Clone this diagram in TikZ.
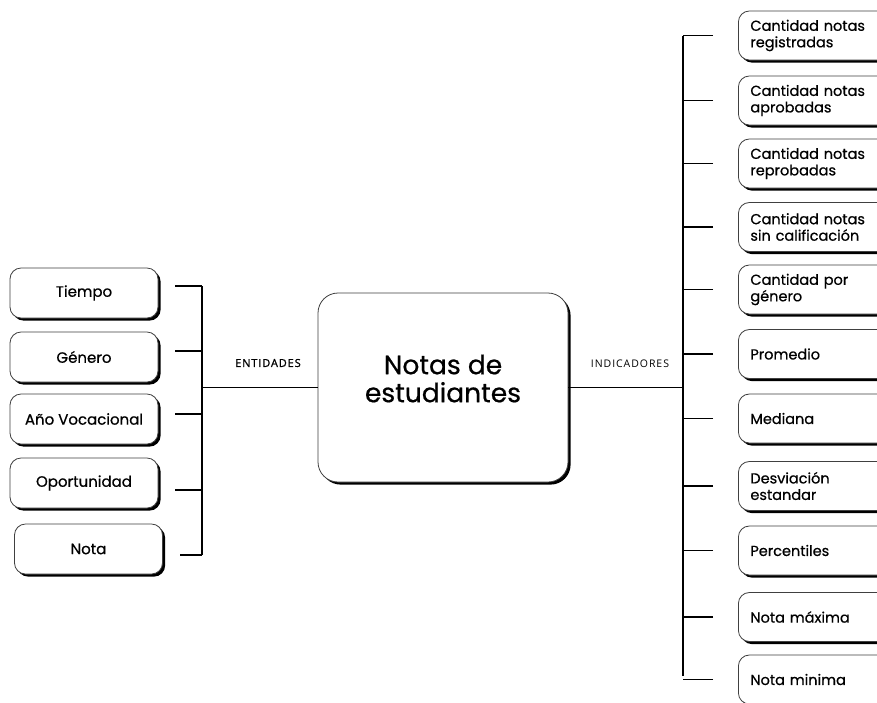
\documentclass[tikz,border=0pt]{standalone}
\usepackage{fontspec}
\setmainfont{Poppins}[FakeBold=0.6]
\newfontfamily\labfont{Open Sans}[LetterSpace=8,FakeBold=1.2]
\newfontfamily\labfontl{Open Sans}[LetterSpace=9]
\usetikzlibrary{shadows}
\begin{document}
\begin{tikzpicture}[x=1pt,y=-1pt,
  sbox/.style={draw=black!75, line width=0.8pt, fill=white,
    general shadow={fill=black, shadow xshift=2.6pt, shadow yshift=-2.6pt}},
  lbox/.style={sbox, rounded corners=11pt, minimum width=148pt, minimum height=50pt,
    inner sep=0pt, font=\fontsize{15}{17}\selectfont},
  rbox/.style={sbox, rounded corners=11pt, minimum width=170pt, minimum height=49pt,
    anchor=west, inner xsep=12pt, inner ysep=0pt, text width=146pt, align=left,
    font=\fontsize{14.5}{16.5}\selectfont},
  cbox/.style={sbox, rounded corners=20pt, minimum width=250pt, minimum height=189pt,
    inner sep=0pt},
  ctext/.style={align=center, font=\fontsize{26.5}{28}\selectfont, yshift=9pt},
  conn/.style={line width=1.5pt, black},
  tag/.style={font=\labfont\fontsize{11}{13}\selectfont}]
\useasboundingbox (0,0) rectangle (877,702);
\clip (0,0) rectangle (877,702);
\fill[white] (0,0) rectangle (877,702);

% left entity boxes
\node[lbox] (L1) at (84,293) {Tiempo};
\node[lbox] (L2) at (84,357) {Género};
\node[lbox] (L3) at (84,419) {Año Vocacional};
\node[lbox] (L4) at (84,483) {Oportunidad};
\node[lbox] (L5) at (88.5,549) {Nota};

% centre
\node[cbox, label={[ctext]center:Notas de\\estudiantes}] (C) at (443,387.5) {};

% right indicator boxes
\node[rbox] (R1) at (738,35.5) {Cantidad notas\\registradas};
\node[rbox] (R2) at (738,100.5) {Cantidad notas\\aprobadas};
\node[rbox] (R3) at (738,163.5) {Cantidad notas\\reprobadas};
\node[rbox] (R4) at (738,227) {Cantidad notas\\sin calificación};
\node[rbox] (R5) at (738,289.5) {Cantidad por\\género};
\node[rbox] (R6) at (738,354) {Promedio};
\node[rbox] (R7) at (738,418.5) {Mediana};
\node[rbox] (R8) at (738,486) {Desviación\\estandar};
\node[rbox] (R9) at (738,550.5) {Percentiles};
\node[rbox] (R10) at (738,617) {Nota máxima};
\node[rbox] (R11) at (738,679.5) {Nota minima};

% left bracket
\coordinate (bl1) at (202,286);
\coordinate (bl2) at (202,351);
\coordinate (bl3) at (202,414);
\coordinate (bl4) at (202,490);
\coordinate (bl5) at (202,555);
\draw[conn] (bl1) -- (bl5);
\foreach \i in {1,...,5}{
  \draw[conn, shorten >=17pt] (bl\i) -- (bl\i -| L\i.east);
}
\draw[conn] (C.west -| bl1) -- (C.west);
\node[tag] (ent) at (268,363) {ENTIDADES};

% right bracket
\coordinate (br) at (683,36);
\coordinate (brb) at (683,676);
\draw[conn] (br) -- (brb);
\foreach \i in {1,...,11}{
  \draw[conn, shorten <=25pt] (R\i.west) -- (R\i.west -| br);
}
\draw[conn] (C.east) -- (C.east -| br);
\node[font=\labfontl\fontsize{10.5}{13}\selectfont] (ind) at (630,364) {INDICADORES};
\end{tikzpicture}
\end{document}
